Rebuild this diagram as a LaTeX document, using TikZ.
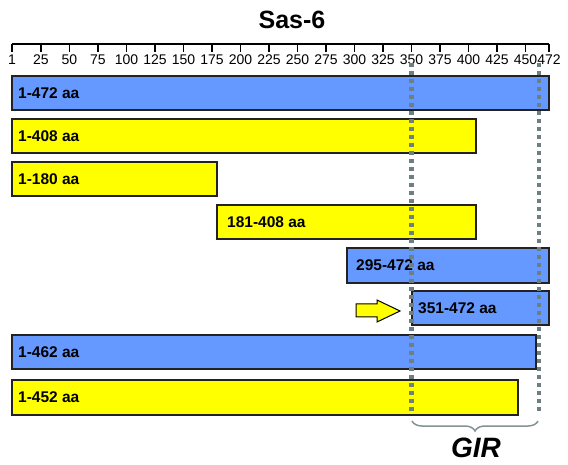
\documentclass[tikz,border=0pt]{standalone}
\usepackage{fontspec}
\setmainfont{Liberation Sans}
\usetikzlibrary{decorations.pathreplacing}
\definecolor{barblue}{HTML}{6699FF}
\definecolor{baryellow}{HTML}{FFFF00}
\definecolor{dotgray}{HTML}{6E7F80}
\definecolor{bordergray}{HTML}{222222}
\begin{document}
\begin{tikzpicture}[x=1pt,y=-1pt,
  barbox/.style={draw=bordergray,line width=1.3pt},
  barlabel/.style={anchor=west,inner sep=0pt,font=\fontsize{15.5}{17}\selectfont\bfseries},
  ticklabel/.style={font=\fontsize{14}{16}\selectfont,inner sep=0pt},
  gapline/.style={dotgray,line width=4.5pt,dash pattern=on 4pt off 4pt}]
\useasboundingbox (0,0) rectangle (568,465);
% title
\node[font=\fontsize{25}{28}\selectfont\bfseries] (title) at (292,20) {Sas-6};
% axis
\coordinate (axl) at (12,44);
\coordinate (axr) at (549,44);
\draw[line width=1.3pt] (axl) -- (axr);
\foreach \v/\x in {1/12,25/41,50/69.5,75/98,100/126.5,125/155,150/183.5,175/212,200/240.5,225/269,250/297.5,275/326,300/354.5,325/383,350/411.5,375/440,400/468.5,425/497,450/525.5,472/549}{
  \draw[line width=1.2pt] (\x,44) -- (\x,52);
  \node[ticklabel] (t\v) at (\x,60) {\v};
}
% bars
\draw[barbox,fill=barblue]   (12,76)  rectangle (549,110);
\node[barlabel] (l1) at (18,93) {1-472 aa};
\draw[barbox,fill=baryellow] (12,119) rectangle (476,153);
\node[barlabel] (l2) at (18,136) {1-408 aa};
\draw[barbox,fill=baryellow] (12,162) rectangle (217,196);
\node[barlabel] (l3) at (18,179) {1-180 aa};
\draw[barbox,fill=baryellow] (217,205) rectangle (476,239);
\node[barlabel] (l4) at (227,222) {181-408 aa};
\draw[barbox,fill=barblue]   (347,248) rectangle (549,283);
\node[barlabel] (l5) at (356,265.5) {295-472 aa};
\draw[barbox,fill=barblue]   (412,291) rectangle (549,325);
\node[barlabel] (l6) at (418,308) {351-472 aa};
\draw[barbox,fill=barblue]   (12,335) rectangle (536,369);
\node[barlabel] (l7) at (18,352) {1-462 aa};
\draw[barbox,fill=baryellow] (12,380) rectangle (518,415);
\node[barlabel] (l8) at (18,397.5) {1-452 aa};
% arrow
\draw[line width=1pt,fill=baryellow] (356,304) -- (377,304) -- (377,300) -- (400,311) -- (377,322) -- (377,317) -- (356,317) -- cycle;
% dotted lines
\coordinate (d1t) at (411.5,63);
\coordinate (d1b) at (411.5,413);
\coordinate (d2t) at (539,63);
\coordinate (d2b) at (539,411);
\draw[gapline] (d1t) -- (d1b);
\draw[gapline] (d2t) -- (d2b);
% brace
\coordinate (br1) at (412,421);
\coordinate (br2) at (538,421);
\draw[dotgray!85,line width=1.5pt,decorate,decoration={brace,mirror,amplitude=10pt}] (br1) -- (br2);
\node[font=\fontsize{28}{30}\selectfont\bfseries\itshape] (gir) at (476,448) {GIR};
\end{tikzpicture}
\end{document}
